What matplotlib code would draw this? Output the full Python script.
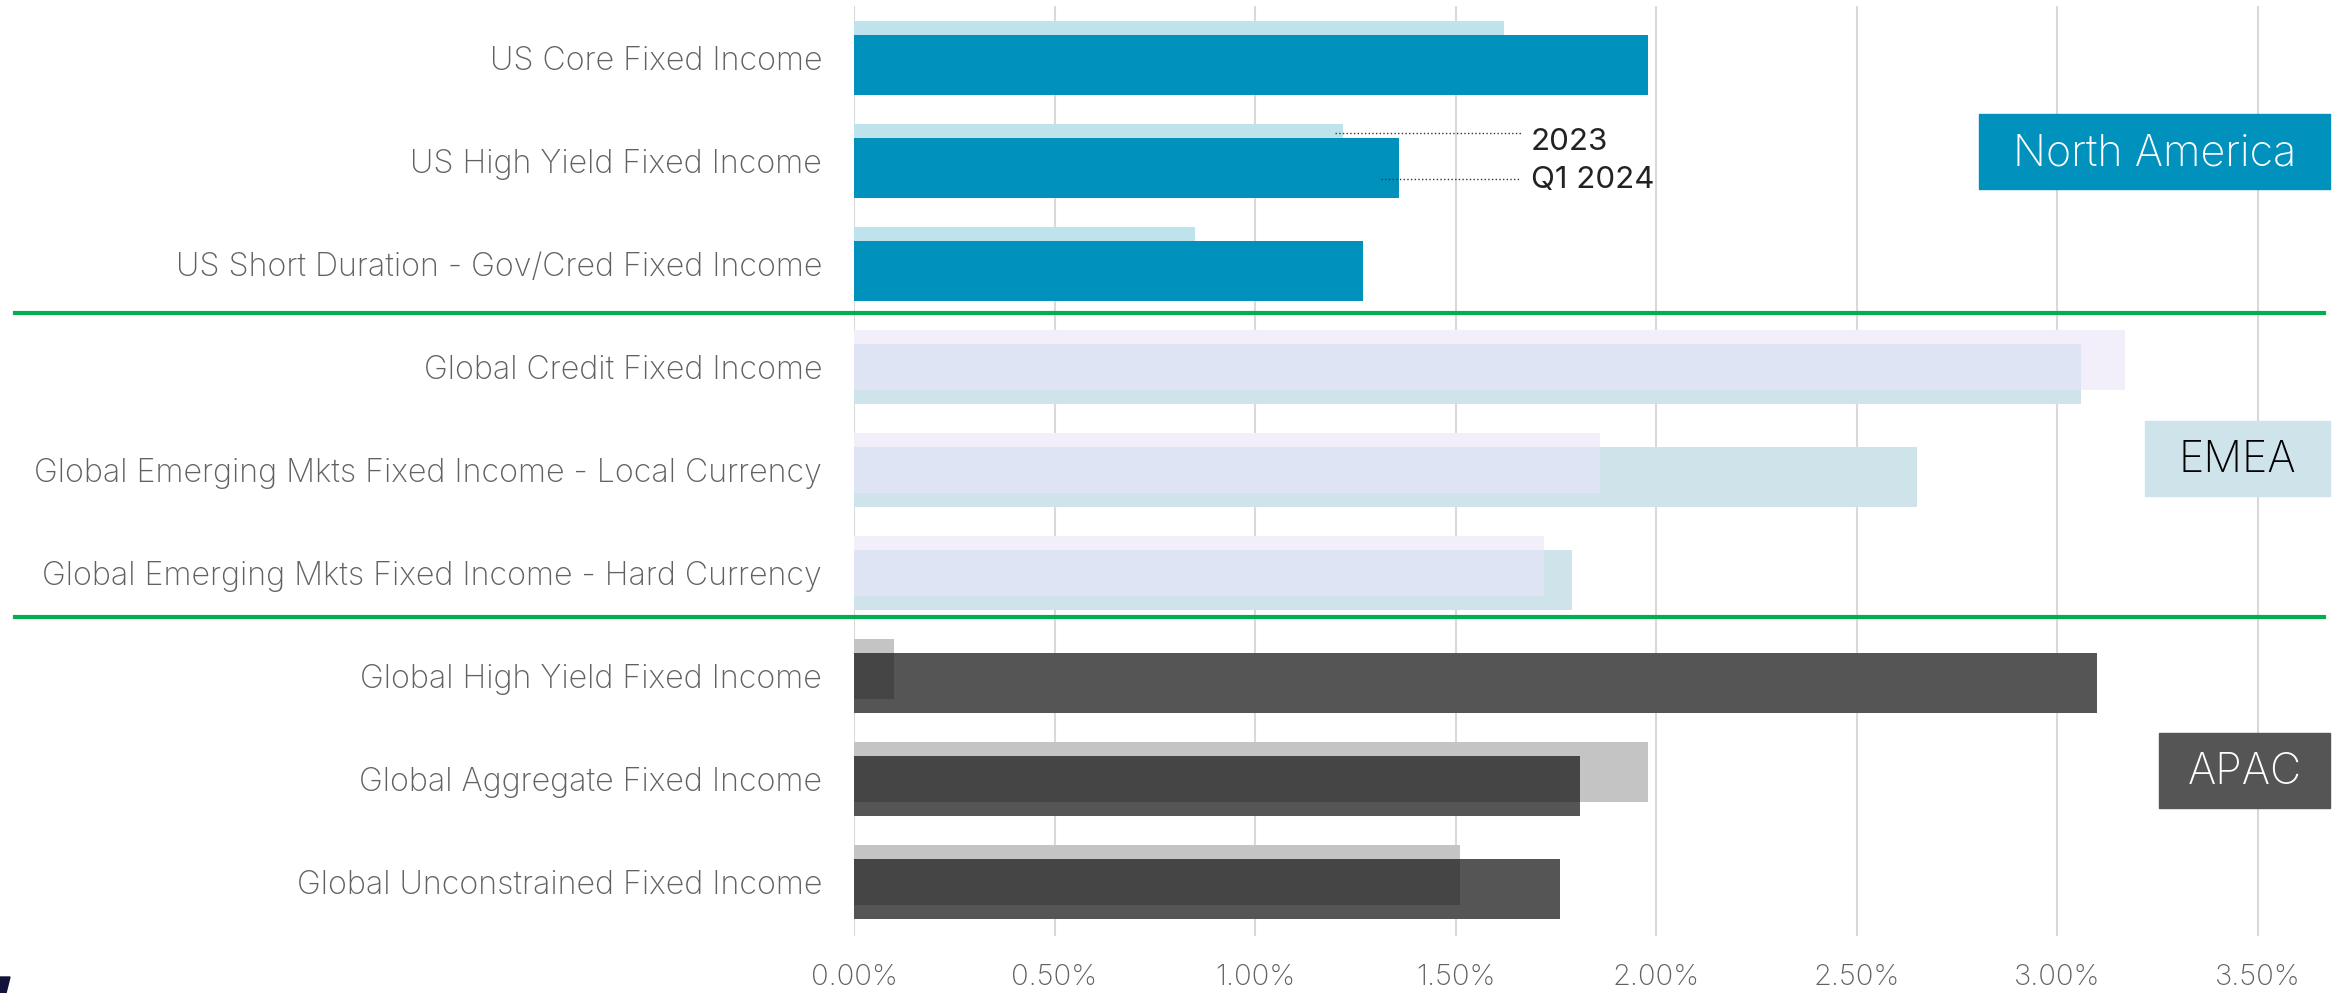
import numpy as np
import matplotlib.pyplot as plt
from matplotlib.patches import Rectangle, Polygon

plt.rcParams['font.family'] = ['Inter', 'DejaVu Sans']

categories = ['US Core Fixed Income',
              'US High Yield Fixed Income',
              'US Short Duration - Gov/Cred Fixed Income',
              'Global Credit Fixed Income',
              'Global Emerging Mkts Fixed Income - Local Currency',
              'Global Emerging Mkts Fixed Income - Hard Currency',
              'Global High Yield Fixed Income',
              'Global Aggregate Fixed Income',
              'Global Unconstrained Fixed Income']
vals_2023 = [1.62, 1.22, 0.85, 3.17, 1.86, 1.72, 0.10, 1.98, 1.51]
vals_q1_2024 = [1.98, 1.36, 1.27, 3.06, 2.65, 1.79, 3.10, 1.81, 1.76]
regions = ['North America', 'EMEA', 'APAC']
xticks = [0.0, 0.5, 1.0, 1.5, 2.0, 2.5, 3.0, 3.5]

# colours per region: 2023, Q1 2024, overlap
region_colors = [('#bfe3ec', '#0091bd', '#0091bd'),
                 ('#f2effa', '#cfe3eb', '#dee4f3'),
                 ('#c4c4c4', '#555555', '#454545')]
box_colors = ['#0091bd', '#cfe3eb', '#555555']
box_text = ['white', 'black', 'white']

fig = plt.figure(figsize=(23.48, 9.93), dpi=100)
W, H = 2348, 993
x0_px, px_per_pct = 854, 401
xmax = 3.68
ax = fig.add_axes([x0_px / W, 57 / H, xmax * px_per_pct / W, 930 / H])

y = np.arange(len(categories))
h = 0.583
off = 0.068
for g in range(3):
    idx = y[g * 3:(g + 1) * 3]
    a = np.array(vals_2023[g * 3:(g + 1) * 3])
    b = np.array(vals_q1_2024[g * 3:(g + 1) * 3])
    c23, cq1, cov = region_colors[g]
    ax.barh(idx - off, a, height=h, color=c23, zorder=2)
    ax.barh(idx + off, b, height=h, color=cq1, zorder=3)
    ax.barh(idx, np.minimum(a, b), height=h - 2 * off, color=cov, zorder=4)

ax.set_xlim(0, xmax)
ax.set_ylim(8.525, -0.504)
ax.set_xticks(xticks)
ax.set_xticklabels(['{:.2f}%'.format(t) for t in xticks], fontweight='light')
ax.set_yticks(y)
ax.set_yticklabels(categories, fontweight='light', fontsize=23.2)
ax.tick_params(axis='both', length=0, labelcolor='#616161')
ax.tick_params(axis='x', labelsize=21, pad=20)
ax.tick_params(axis='y', pad=23)
ax.xaxis.grid(True, color='#d9d9d9', lw=1.5, zorder=0)
ax.set_axisbelow(True)
for s in ax.spines.values():
    s.set_visible(False)

# green separators between regions
axw = xmax * px_per_pct
for sep in [2.477, 5.428]:
    ax.axhline(sep, xmin=(15 - x0_px) / axw, xmax=(2324 - x0_px) / axw,
               color='#00b050', lw=3, clip_on=False, zorder=5)

# region boxes
box_x = [(2.805, 3.681), (3.22, 3.681), (3.255, 3.681)]
box_y = [(0.545, 1.27), (3.525, 4.253), (6.554, 7.28)]
for g in range(3):
    (bx0, bx1), (by0, by1) = box_x[g], box_y[g]
    ax.add_patch(Rectangle((bx0, by0), bx1 - bx0, by1 - by0,
                           color=box_colors[g], clip_on=False, zorder=6))
    ax.text((bx0 + bx1) / 2, (by0 + by1) / 2 - 0.02, regions[g], ha='center',
            va='center_baseline', fontsize=31, color=box_text[g],
            fontweight='light', zorder=7, clip_on=False)

# legend leaders on the US High Yield row
ax.plot([vals_2023[1] - 0.02, 1.665], [0.726, 0.726], ls=':', lw=1,
        color='#333333', zorder=6)
ax.plot([vals_q1_2024[1] - 0.045, 1.66], [1.176, 1.176], ls=':', lw=1,
        color='#333333', zorder=6)
ax.text(1.688, 0.812, '2023', fontsize=22.5, color='#222222', va='center')
ax.text(1.688, 1.185, 'Q1 2024', fontsize=22.5, color='#222222', va='center')

# logo fragment at bottom left
fig.patches.append(Polygon([(0, 0), (6 / W, 0), (10 / W, 16 / H), (0, 16 / H)],
                           closed=True, transform=fig.transFigure,
                           color='#12123a'))

fig.savefig('out.png', dpi=100)
